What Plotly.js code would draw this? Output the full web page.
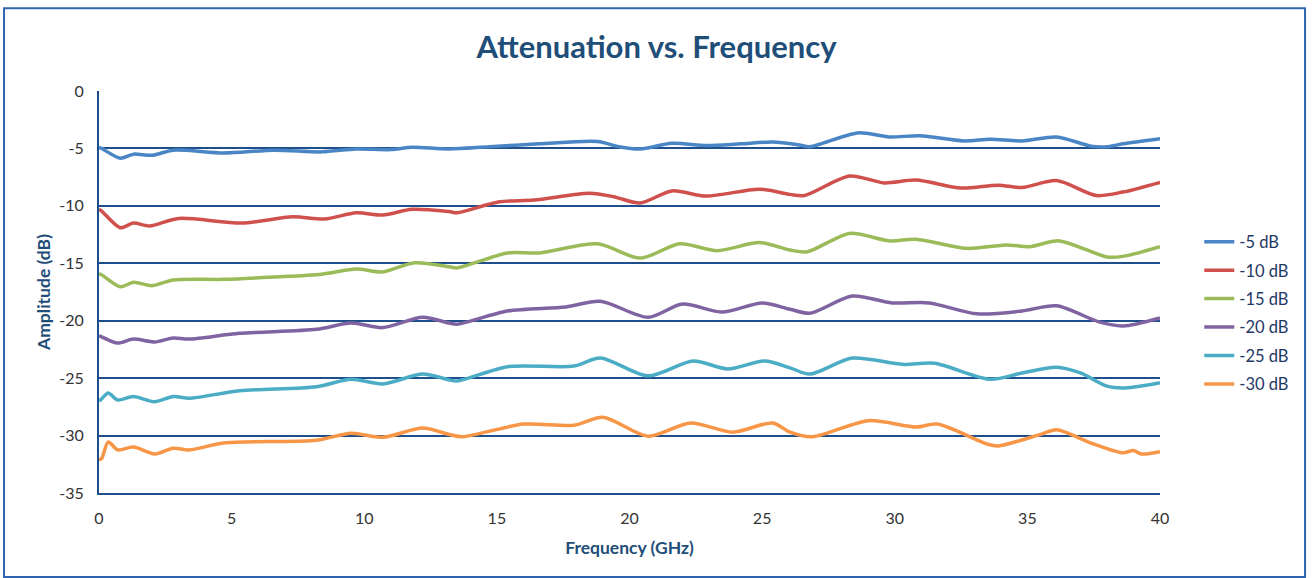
<!DOCTYPE html>
<html>
<head>
<meta charset="utf-8">
<script src="https://cdn.plot.ly/plotly-3.0.1.min.js"></script>
<style>html,body{margin:0;padding:0;background:#fff;}#chart{width:1313px;height:578px;}</style>
</head>
<body>
<div id="chart"></div>
<script>
// Series data (Frequency in GHz, Amplitude in dB)
var x_5  = [0, 0.1, 0.8, 1.3, 2.0, 2.8, 4.7, 6.6, 8.4, 9.7, 11.0, 11.8, 13.2, 14.7, 16.6, 18.8, 19.6, 20.4, 21.6, 22.9, 24.2, 25.4, 26.4, 26.8, 28.6, 29.8, 30.95, 32.6, 33.6, 34.8, 36.1, 37.4, 38.0, 38.6, 40.0];
var y_5  = [-4.9, -5.0, -5.85, -5.5, -5.6, -5.15, -5.4, -5.15, -5.3, -5.05, -5.1, -4.9, -5.05, -4.85, -4.6, -4.4, -4.85, -5.05, -4.55, -4.75, -4.6, -4.45, -4.7, -4.85, -3.65, -4.0, -3.9, -4.35, -4.2, -4.35, -4.0, -4.8, -4.85, -4.6, -4.15];

var x_10 = [0, 0.1, 0.8, 1.3, 1.9, 3.0, 5.4, 7.3, 8.5, 9.7, 10.7, 11.8, 13.2, 13.5, 15.1, 16.4, 18.5, 19.4, 20.4, 21.6, 22.9, 24.9, 26.05, 26.6, 28.3, 29.6, 30.8, 32.5, 33.9, 34.8, 36.1, 37.6, 38.6, 40.0];
var y_10 = [-10.3, -10.45, -11.9, -11.5, -11.75, -11.1, -11.5, -10.95, -11.15, -10.6, -10.8, -10.3, -10.5, -10.6, -9.65, -9.5, -8.9, -9.2, -9.75, -8.7, -9.15, -8.55, -9.0, -9.1, -7.4, -8.0, -7.75, -8.45, -8.2, -8.4, -7.8, -9.1, -8.8, -7.95];

var x_15 = [0, 0.1, 0.8, 1.3, 2.0, 2.8, 4.7, 6.6, 8.4, 9.7, 10.7, 11.9, 13.2, 13.5, 15.4, 16.6, 18.8, 20.4, 21.9, 23.3, 24.9, 26.05, 26.7, 28.3, 29.8, 30.8, 32.7, 34.2, 35.1, 36.2, 38.0, 38.6, 40.0];
var y_15 = [-15.9, -16.0, -17.05, -16.65, -16.95, -16.45, -16.4, -16.2, -15.95, -15.5, -15.75, -14.95, -15.3, -15.4, -14.1, -14.1, -13.3, -14.55, -13.3, -13.9, -13.2, -13.85, -14.0, -12.4, -13.05, -12.9, -13.7, -13.4, -13.55, -13.05, -14.45, -14.4, -13.55];

var x_20 = [0, 0.1, 0.7, 1.3, 2.1, 2.8, 3.4, 5.3, 8.2, 9.5, 10.7, 12.2, 13.2, 13.5, 15.4, 17.6, 18.9, 20.7, 22.0, 23.5, 25.0, 26.05, 26.8, 28.4, 29.9, 31.3, 33.1, 34.8, 36.1, 37.7, 38.6, 40.0];
var y_20 = [-21.3, -21.4, -21.95, -21.6, -21.85, -21.5, -21.6, -21.1, -20.75, -20.2, -20.6, -19.7, -20.2, -20.3, -19.15, -18.8, -18.3, -19.7, -18.55, -19.25, -18.45, -19.0, -19.35, -17.85, -18.45, -18.45, -19.4, -19.15, -18.7, -20.1, -20.45, -19.75];

var x_25 = [0, 0.1, 0.35, 0.7, 1.3, 2.1, 2.8, 3.4, 5.3, 8.2, 9.5, 10.7, 12.2, 13.2, 13.5, 15.4, 17.9, 18.9, 20.7, 22.4, 23.7, 25.1, 26.05, 26.8, 28.4, 30.3, 31.5, 33.6, 34.8, 36.1, 37.0, 38.0, 38.7, 40.0];
var y_25 = [-27.0, -26.8, -26.3, -26.9, -26.6, -27.05, -26.6, -26.75, -26.1, -25.75, -25.1, -25.5, -24.65, -25.15, -25.25, -24.0, -23.95, -23.25, -24.8, -23.5, -24.2, -23.5, -24.1, -24.65, -23.25, -23.8, -23.7, -25.1, -24.55, -24.05, -24.55, -25.7, -25.85, -25.4];

var x_30 = [0, 0.1, 0.35, 0.7, 1.3, 2.1, 2.8, 3.4, 4.7, 8.2, 9.5, 10.7, 12.2, 13.2, 13.7, 16.0, 17.9, 19.0, 20.7, 22.3, 23.9, 25.4, 26.05, 26.9, 29.0, 30.8, 31.6, 33.5, 33.9, 35.5, 36.1, 37.4, 38.6, 39.0, 39.3, 40.0];
var y_30 = [-32.1, -32.0, -30.55, -31.25, -31.0, -31.6, -31.1, -31.25, -30.65, -30.4, -29.8, -30.15, -29.35, -29.9, -30.1, -29.0, -29.1, -28.4, -30.05, -28.9, -29.7, -28.9, -29.7, -30.1, -28.7, -29.25, -29.0, -30.75, -30.9, -29.9, -29.5, -30.65, -31.5, -31.3, -31.6, -31.4];

var seriesNames  = ['-5 dB', '-10 dB', '-15 dB', '-20 dB', '-25 dB', '-30 dB'];
var seriesX = [x_5, x_10, x_15, x_20, x_25, x_30];
var seriesY = [y_5, y_10, y_15, y_20, y_25, y_30];
var seriesColors = ['#4A86C5', '#D0504D', '#9BBB59', '#8064A2', '#4BACC6', '#F79646'];

var xTicks = [0, 5, 10, 15, 20, 25, 30, 35, 40];
var yTicks = [0, -5, -10, -15, -20, -25, -30, -35];

var traces = seriesNames.map(function (n, i) {
  return {
    type: 'scatter', mode: 'lines', name: n, legendgroup: 'g' + i,
    x: seriesX[i], y: seriesY[i],
    line: {color: seriesColors[i], width: 3.5, shape: 'spline', smoothing: 0.8}
  };
});

var navy = '#1F4E8C';
var layout = {
  width: 1313, height: 578,
  margin: {l: 99, r: 153, t: 91, b: 85, autoexpand: false},
  paper_bgcolor: '#ffffff', plot_bgcolor: '#ffffff',
  font: {family: 'Lato, "Open Sans", sans-serif', color: '#333333', size: 16},
  title: {text: '<b>Attenuation vs. Frequency</b>', x: 0.5, xanchor: 'center', y: 0.918, yanchor: 'middle',
          font: {family: 'Lato, "Open Sans", sans-serif', size: 31, color: '#1F4E79'}},
  xaxis: {
    range: [0, 40], tickvals: xTicks, ticktext: xTicks.map(String),
    showgrid: false, zeroline: false, automargin: false,
    showline: true, linecolor: navy, linewidth: 2,
    ticks: '', ticklabelstandoff: 10, tickfont: {size: 16, color: '#333333'},
    title: {text: '<b>Frequency (GHz)</b>', font: {size: 17.5, color: '#1F4E79'}, standoff: 16}
  },
  yaxis: {
    range: [-35, 0], tickvals: yTicks, ticktext: yTicks.map(String),
    showgrid: true, gridcolor: navy, gridwidth: 2, zeroline: false, automargin: false,
    showline: true, linecolor: navy, linewidth: 2,
    ticks: '', ticklabelstandoff: 10, tickfont: {size: 16, color: '#333333'},
    title: {text: '<b>Amplitude (dB)</b>', font: {size: 17.5, color: '#1F4E79'}, standoff: 4}
  },
  legend: {x: 1.037, xanchor: 'left', y: 0.668, yanchor: 'top',
           font: {size: 16.5, color: '#1F3864'}, tracegroupgap: 4,
           bgcolor: 'rgba(0,0,0,0)'},
  shapes: [{type: 'rect', xref: 'paper', yref: 'paper',
            x0: -0.0895, x1: 1.1367, y0: -0.209, y1: 1.206,
            line: {color: '#2E64B0', width: 2}, fillcolor: 'rgba(0,0,0,0)'}],
  showlegend: true
};

Plotly.newPlot('chart', traces, layout, {displayModeBar: false, staticPlot: true});
</script>
</body>
</html>
